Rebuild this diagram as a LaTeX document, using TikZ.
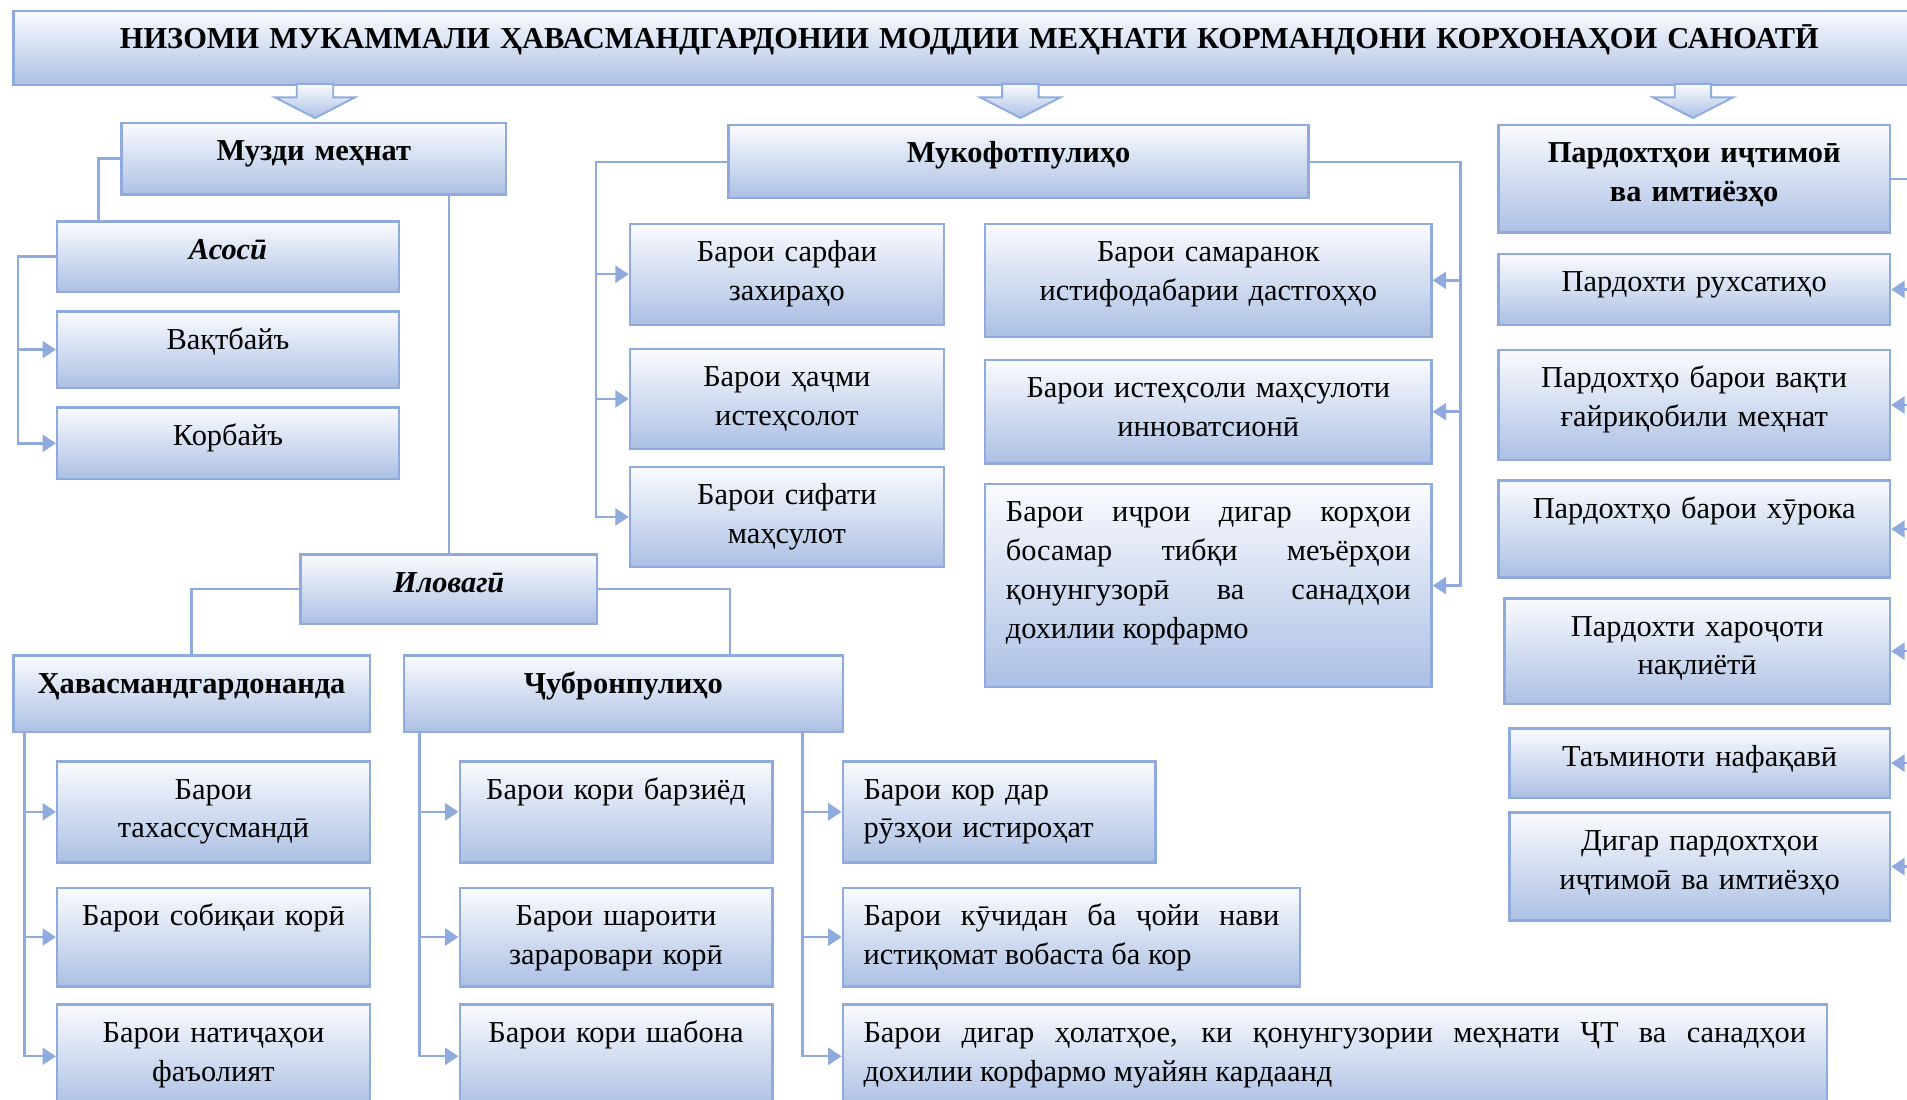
\documentclass[tikz,border=0pt]{standalone}
\usepackage{fontspec}
\setmainfont{Liberation Serif}
\usetikzlibrary{arrows.meta,calc}
\definecolor{bord}{RGB}{143,170,220}
\definecolor{gbot}{RGB}{172,192,228}
\definecolor{gtop}{RGB}{250,251,254}
\tikzset{
  box/.style={draw=bord, line width=2pt, top color=gtop, bottom color=gbot, inner sep=0pt},
  txt/.style={inner sep=0pt, align=center, font={\fontsize{25}{32}\selectfont}},
  conn/.style={draw=bord, line width=2pt},
  arr/.style={conn, -{Triangle[length=11pt,width=14pt]}},
  blk/.style={draw=bord, line width=1.6pt, top color=gtop, bottom color=gbot, line join=miter}
}
\newcommand\bx[7]{%
  \pgfmathsetmacro\bxw{#4-#2}%
  \pgfmathsetmacro\bxh{#5-#3}%
  \pgfmathsetmacro\bxt{#4-#2-34}%
  \node[box, anchor=north west, minimum width=\bxw pt, minimum height=\bxh pt] (#1) at (#2,#3) {};
  \node[txt, text width=\bxt pt, #6, anchor=base] (#1t) at ($(#1.north)+(0,32)$) {#7};
}
\begin{document}
\begin{tikzpicture}[x=1pt,y=-1pt]
\useasboundingbox (0,0) rectangle (1568,904);
\clip (0,0) rectangle (1568,904);

% title
\bx{title}{10}{8}{1582}{69}{}{\bfseries НИЗОМИ МУКАММАЛИ ҲАВАСМАНДГАРДОНИИ МОДДИИ МЕҲНАТИ КОРМАНДОНИ КОРХОНАҲОИ САНОАТӢ}

% headers
\bx{muzdi}{99}{100}{415}{159}{}{\bfseries Музди меҳнат}
\bx{mukof}{598}{102}{1075}{162}{}{\bfseries Мукофотпулиҳо}
\bx{pard}{1231}{102}{1553}{190}{}{\bfseries Пардохтҳои иҷтимоӣ\\ва имтиёзҳо}

% block arrows
\foreach \ax in {259,839,1392}{
  \draw[blk] (\ax-15,69) -- (\ax-15,80) -- (\ax-33,80) -- (\ax,97) -- (\ax+33,80) -- (\ax+15,80) -- (\ax+15,69) -- cycle;
}

% left part
\bx{asosi}{46}{181}{327}{239}{}{\bfseries\itshape Асосӣ}
\bx{vaqt}{46}{255}{327}{318}{}{Вақтбайъ}
\bx{korb}{46}{334}{327}{393}{}{Корбайъ}
\bx{ilov}{246}{455}{490}{512}{}{\bfseries\itshape Иловагӣ}
\bx{hav}{10}{538}{303}{601}{}{\bfseries Ҳавасмандгардонанда}
\bx{jub}{331}{538}{692}{601}{}{\bfseries Ҷубронпулиҳо}

\bx{h1}{46}{625}{303}{708}{}{Барои\\тахассусмандӣ}
\bx{h2}{46}{729}{303}{810}{}{Барои собиқаи корӣ}
\bx{h3}{46}{825}{303}{910}{}{Барои натиҷаҳои\\фаъолият}

\bx{j1}{377}{625}{634}{708}{}{Барои кори барзиёд}
\bx{j2}{377}{729}{634}{810}{}{Барои шароити\\зараровари корӣ}
\bx{j3}{377}{825}{634}{910}{}{Барои кори шабона}

\bx{r1}{692}{625}{949}{708}{align=left}{Барои кор дар\\рӯзҳои истироҳат}
\bx{r2}{692}{729}{1068}{810}{align=justify}{Барои кӯчидан ба ҷойи нави\linebreak истиқомат вобаста ба кор}
\bx{r3}{692}{825}{1501}{910}{align=justify}{Барои дигар ҳолатҳое, ки қонунгузории меҳнати ҶТ ва санадҳои\linebreak дохилии корфармо муайян кардаанд}

% middle part
\bx{s1}{517}{183}{775}{266}{}{Барои сарфаи\\захираҳо}
\bx{s2}{517}{286}{775}{368}{}{Барои ҳаҷми\\истеҳсолот}
\bx{s3}{517}{383}{775}{465}{}{Барои сифати\\маҳсулот}
\bx{m1}{809}{183}{1176}{276}{}{Барои самаранок\\истифодабарии дастгоҳҳо}
\bx{m2}{809}{295}{1176}{380}{}{Барои истеҳсоли маҳсулоти\\инноватсионӣ}
\bx{m3}{809}{397}{1176}{564}{align=justify}{Барои иҷрои дигар корҳои\linebreak босамар тибқи меъёрҳои\linebreak қонунгузорӣ ва санадҳои\linebreak дохилии корфармо}

% right part
\bx{p1}{1231}{208}{1553}{266}{}{Пардохти рухсатиҳо}
\bx{p2}{1231}{287}{1553}{377}{}{Пардохтҳо барои вақти\\ғайриқобили меҳнат}
\bx{p3}{1231}{394}{1553}{474}{}{Пардохтҳо барои хӯрока}
\bx{p4}{1236}{491}{1553}{578}{}{Пардохти хароҷоти\\нақлиётӣ}
\bx{p5}{1240}{598}{1553}{655}{}{Таъминоти нафақавӣ}
\bx{p6}{1240}{667}{1553}{756}{}{Дигар пардохтҳои\\иҷтимоӣ ва имтиёзҳо}

% connectors
\draw[conn] (muzdi.west) -| ($(asosi.north west)+(35,0)$);
\draw[arr] (asosi.west) -- ++(-31,0) |- (vaqt.west);
\draw[arr] (asosi.west) -- ++(-31,0) |- (korb.west);
\draw[conn] (muzdi.south -| ilov.north) -- (ilov.north);
\draw[conn] (ilov.west) -| (hav.north);
\draw[conn] (ilov.east) -| ($(jub.north west)+(269,0)$);

\foreach \c in {h1,h2,h3}{ \draw[arr] ($(hav.south west)+(10,0)$) |- (\c.west); }
\foreach \c in {j1,j2,j3}{ \draw[arr] ($(jub.south west)+(14,0)$) |- (\c.west); }
\foreach \c in {r1,r2,r3}{ \draw[arr] ($(jub.south east)+(-34,0)$) |- (\c.west); }

\foreach \c in {s1,s2,s3}{ \draw[arr] (mukof.west) -- ++(-108,0) |- (\c.west); }
\foreach \c in {m1,m2,m3}{ \draw[arr] (mukof.east) -- ++(124,0) |- (\c.east); }
\foreach \c in {p1,p2,p3,p4,p5,p6}{ \draw[arr] (pard.east) -- ++(30,0) |- (\c.east); }
\end{tikzpicture}
\end{document}
